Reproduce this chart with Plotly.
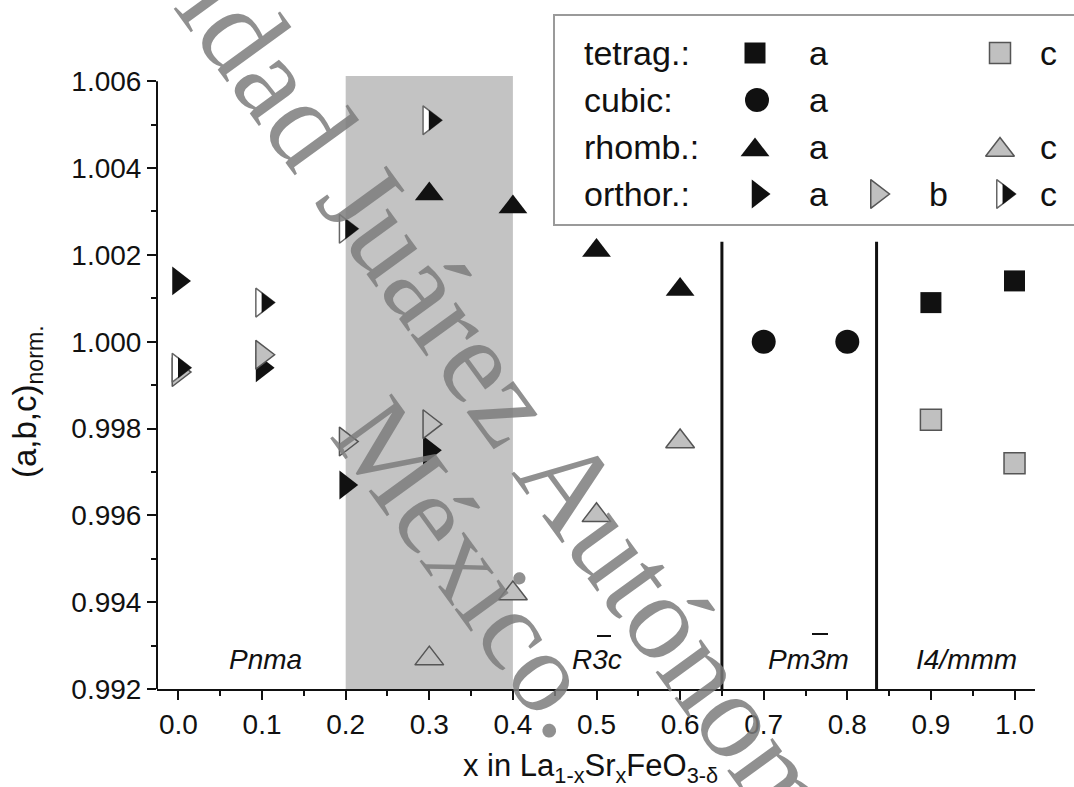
import plotly.graph_objects as go

# ---- normalised lattice parameters, La(1-x)Sr(x)FeO(3-delta) ----
orthor_x = [0.0, 0.1, 0.2, 0.3]
orthor_a = [1.0014, 0.9994, 0.9967, 0.9975]
orthor_b = [0.9993, 0.9997, 0.9977, 0.9981]
orthor_c = [0.9994, 1.0009, 1.0026, 1.0051]

rhomb_x = [0.3, 0.4, 0.5, 0.6]
rhomb_a = [1.0034, 1.0031, 1.0021, 1.0012]
rhomb_c = [0.9927, 0.9942, 0.9960, 0.9977]

cubic_x = [0.7, 0.8]
cubic_a = [1.0000, 1.0000]

tetrag_x = [0.9, 1.0]
tetrag_a = [1.0009, 1.0014]
tetrag_c = [0.9982, 0.9972]

# two-phase region and phase boundaries
coexist_x = [0.2, 0.4]
boundary_x = [0.65, 0.835]
boundary_top = 1.0023

# space-group labels (x position, text)
phase_x = [0.1035, 0.5006, 0.754, 0.943]
phase_names = ["Pnma", "R3c", "Pm3m", "I4/mmm"]
phase_y = 0.99267

# ---- page geometry ----
W, H = 1074, 787
PLOT_L, PLOT_R, PLOT_T, PLOT_B = 157, 1035, 76, 689
X_RANGE = [-0.0257, 1.0245]
Y_RANGE = [0.992, 1.00612]

BLACK = "#111111"
GREY_FILL = "#c0c0c0"
GREY_LINE = "#555555"
HALF_LINE = "#666666"
SHADE = "#c3c3c3"
FONT = "Liberation Sans, Arial, Helvetica, sans-serif"

S_TRI = 25
S_CIR = 24
S_SQ = 21
HALF_K = 0.72  # black part of the half-filled marker

px_per_x = (PLOT_R - PLOT_L) / (X_RANGE[1] - X_RANGE[0])


def half_shift_px(size):
    # keeps the tip of the smaller black triangle on the tip of the outline
    return 0.577 * size * (1 - HALF_K)


fig = go.Figure()


def marks(x, y, symbol, size, fill, line_color=None, line_width=0, ax="main"):
    xa, ya = ("x", "y") if ax == "main" else ("x2", "y2")
    fig.add_trace(go.Scatter(
        x=x, y=y, mode="markers", xaxis=xa, yaxis=ya,
        marker=dict(symbol=symbol, size=size, color=fill,
                    line=dict(color=line_color or fill, width=line_width)),
        showlegend=False, hoverinfo="skip", cliponaxis=False))


def half_marks(x, y, ax="main"):
    marks(x, y, "triangle-right", S_TRI, "white", HALF_LINE, 1.5, ax)
    if ax == "main":
        dx = half_shift_px(S_TRI) / px_per_x
    else:
        dx = half_shift_px(S_TRI)
    marks([v + dx for v in x], y, "triangle-right", S_TRI * HALF_K, BLACK, ax=ax)


# orthorhombic
marks(orthor_x, orthor_a, "triangle-right", S_TRI, BLACK)
marks(orthor_x, orthor_b, "triangle-right", S_TRI, GREY_FILL, GREY_LINE, 1.5)
half_marks(orthor_x, orthor_c)
# rhombohedral
marks(rhomb_x, rhomb_a, "triangle-up", S_TRI, BLACK)
marks(rhomb_x, rhomb_c, "triangle-up", S_TRI, GREY_FILL, GREY_LINE, 1.5)
# cubic
marks(cubic_x, cubic_a, "circle", S_CIR, BLACK)
# tetragonal
marks(tetrag_x, tetrag_a, "square", S_SQ, BLACK)
marks(tetrag_x, tetrag_c, "square", S_SQ, GREY_FILL, GREY_LINE, 1.5)

# ---- legend (drawn on a page-pixel overlay) ----
LEG_BOX = dict(x0=554, x1=1090, y0=15, y1=225)
leg_rows_y = [53, 100, 147, 194]
leg_labels = ["tetrag.:", "cubic:", "rhomb.:", "orthor.:"]
LEG_FONT = 34

marks([755], [leg_rows_y[0]], "square", S_SQ, BLACK, ax="page")
marks([1000], [leg_rows_y[0]], "square", S_SQ, GREY_FILL, GREY_LINE, 1.5, ax="page")
marks([757], [leg_rows_y[1]], "circle", S_CIR, BLACK, ax="page")
marks([755], [leg_rows_y[2] + 3], "triangle-up", S_TRI, BLACK, ax="page")
marks([1000], [leg_rows_y[2] + 3], "triangle-up", S_TRI, GREY_FILL, GREY_LINE, 1.5, ax="page")
marks([758], [leg_rows_y[3]], "triangle-right", S_TRI, BLACK, ax="page")
marks([877], [leg_rows_y[3]], "triangle-right", S_TRI, GREY_FILL, GREY_LINE, 1.5, ax="page")
half_marks([1003], [leg_rows_y[3]], ax="page")

annotations = []


def page_text(x, y, text, size, anchor="center", **kw):
    d = dict(x=x, y=y, xref="x2", yref="y2", text=text, showarrow=False,
             xanchor=anchor, yanchor="middle",
             font=dict(family=kw.pop("family", FONT), size=size,
                       color=kw.pop("color", BLACK),
                       style=kw.pop("style", "normal")))
    d.update(kw)
    annotations.append(d)


for lbl, yy in zip(leg_labels, leg_rows_y):
    page_text(582, yy, lbl, LEG_FONT, anchor="left")
for yy in leg_rows_y:
    page_text(818, yy, "a", LEG_FONT)
page_text(938, leg_rows_y[3], "b", LEG_FONT)
for yy in (leg_rows_y[0], leg_rows_y[2], leg_rows_y[3]):
    page_text(1048, yy, "c", LEG_FONT)

# space-group labels
for px, name in zip(phase_x, phase_names):
    annotations.append(dict(x=px, y=phase_y, xref="x", yref="y", text=name,
                            showarrow=False, xanchor="center", yanchor="middle",
                            font=dict(family=FONT, size=28, color=BLACK, style="italic")))

# axis titles
page_text(590, 768,
          "x in La<sub>1-x</sub>Sr<sub>x</sub>FeO<sub>3-δ</sub>", 31)
page_text(27, 402, "(a,b,c)<sub>norm.</sub>", 33, textangle=-90)

# repository watermark
WM_FONT = "Liberation Serif, Times New Roman, serif"
WM_COLOR = "rgba(125,125,125,0.85)"
page_text(581, 498, "Universidad Juárez Autónoma de Tabasco", 122,
          family=WM_FONT, color=WM_COLOR, textangle=54)
page_text(472, 567, "México.", 116, family=WM_FONT, color=WM_COLOR, textangle=54)

shapes = [
    # coexistence region
    dict(type="rect", xref="x", yref="y domain", x0=coexist_x[0], x1=coexist_x[1],
         y0=0, y1=1, fillcolor=SHADE, line=dict(width=0), layer="below"),
    # y axis line (up to the last labelled tick)
    dict(type="line", xref="x domain", yref="y", x0=0, x1=0,
         y0=Y_RANGE[0], y1=1.006, line=dict(color=BLACK, width=2)),
    # legend frame
    dict(type="rect", xref="x2", yref="y2", fillcolor="white",
         line=dict(color="#9a9a9a", width=2), layer="below", **LEG_BOX),
    # bars over the 3 in the space-group symbols
    dict(type="line", xref="x2", yref="y2", x0=597, x1=611, y0=636, y1=636,
         line=dict(color=BLACK, width=2)),
    dict(type="line", xref="x2", yref="y2", x0=812, x1=828, y0=634, y1=634,
         line=dict(color=BLACK, width=2)),
]
for bx in boundary_x:
    shapes.append(dict(type="line", xref="x", yref="y", x0=bx, x1=bx,
                       y0=Y_RANGE[0], y1=boundary_top,
                       line=dict(color=BLACK, width=3)))

axis_common = dict(showgrid=False, zeroline=False, ticks="outside", ticklen=9,
                   tickwidth=1.5, tickcolor=BLACK, automargin=False,
                   tickfont=dict(family=FONT, size=28, color=BLACK))

fig.update_layout(
    width=W, height=H,
    margin=dict(l=0, r=0, t=0, b=0, pad=0, autoexpand=False),
    paper_bgcolor="white", plot_bgcolor="rgba(0,0,0,0)",
    xaxis=dict(domain=[PLOT_L / W, PLOT_R / W], range=X_RANGE, anchor="y",
               tickmode="linear", tick0=0, dtick=0.1, tickformat=".1f",
               showline=True, linecolor=BLACK, linewidth=2,
               minor=dict(dtick=0.05, ticks="outside", ticklen=5, tickwidth=1.5,
                          tickcolor=BLACK),
               **axis_common),
    yaxis=dict(domain=[(H - PLOT_B) / H, (H - PLOT_T) / H], range=Y_RANGE, anchor="x",
               tickmode="linear", tick0=0.992, dtick=0.002, tickformat=".3f",
               showline=False,
               minor=dict(dtick=0.001, ticks="outside", ticklen=5, tickwidth=1.5,
                          tickcolor=BLACK),
               **axis_common),
    xaxis2=dict(domain=[0, 1], range=[0, W], anchor="y2", visible=False,
                fixedrange=True, automargin=False),
    yaxis2=dict(domain=[0, 1], range=[H, 0], anchor="x2", visible=False,
                fixedrange=True, automargin=False),
    shapes=shapes,
    annotations=annotations,
)

fig.write_html("out.html")
